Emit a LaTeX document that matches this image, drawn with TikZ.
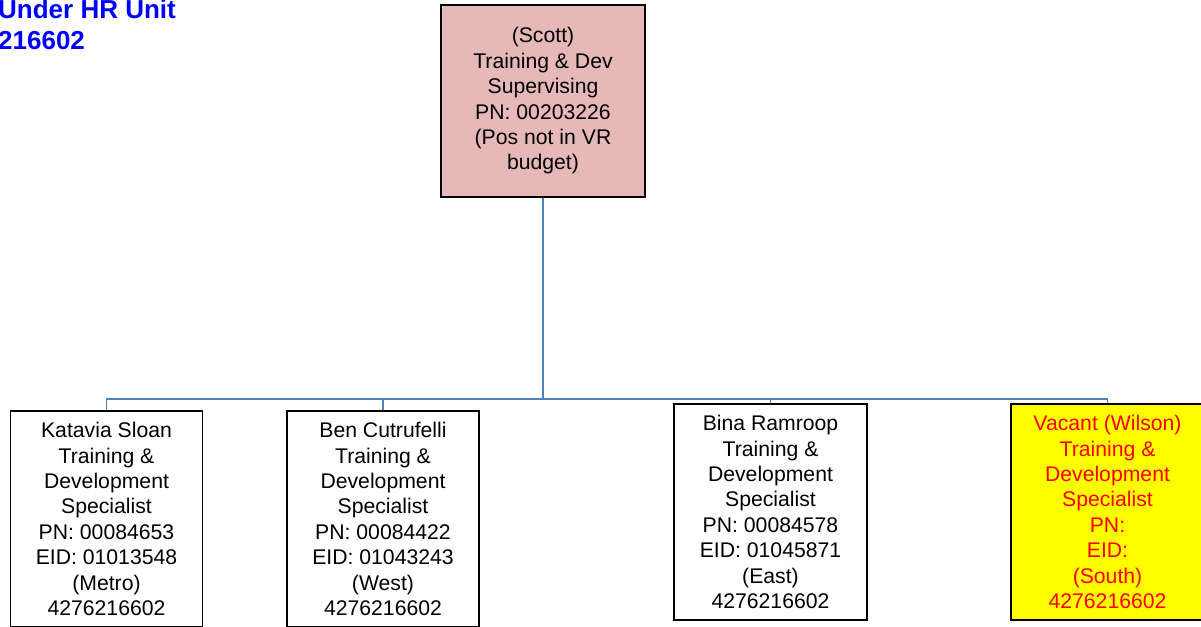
\documentclass[tikz,border=0pt]{standalone}
\usepackage{fontspec}
\setmainfont{Liberation Sans}
\usetikzlibrary{positioning}

\definecolor{supfill}{RGB}{230,185,184}
\definecolor{linkblue}{RGB}{79,129,189}
\definecolor{vacfill}{RGB}{255,255,0}
\definecolor{vactext}{RGB}{255,0,0}
\definecolor{unitblue}{RGB}{0,0,255}

\begin{document}
\begin{tikzpicture}[
x=1pt,y=-1pt,
post/.style={
  draw=black,
  line width=1.3pt,
  align=center,
  inner sep=0pt,
  minimum width=192pt,
  minimum height=216pt,
  font=\fontsize{21.2}{25.4}\selectfont
  },
vacant/.style={
  post,
  fill=vacfill,
  text=vactext
  },
link/.style={
  draw=linkblue,
  line width=1.6pt
  },
>=latex
]
\useasboundingbox (0,0) rectangle (1201,626);

\node[anchor=base west,align=left,text=unitblue,inner sep=0pt,
  font=\fontsize{26}{31}\selectfont\bfseries] (unit) at (-2,49.5)
  {Under HR Unit\\216602};

\node[post,fill=supfill,minimum width=204pt,minimum height=192pt] (scott) at (543,101)
  {(Scott)\\Training \& Dev\\Supervising\\PN: 00203226\\(Pos not in VR\\budget)};

\node[post] (sloan) at (106.5,519)
  {Katavia Sloan\\Training \&\\Development\\Specialist\\PN: 00084653\\EID: 01013548\\(Metro)\\4276216602};
\node[post] (cutrufelli) at (383,519)
  {Ben Cutrufelli\\Training \&\\Development\\Specialist\\PN: 00084422\\EID: 01043243\\(West)\\4276216602};
\node[post,minimum width=193pt] (ramroop) at (770.5,512)
  {Bina Ramroop\\Training \&\\Development\\Specialist\\PN: 00084578\\EID: 01045871\\(East)\\4276216602};
\node[vacant,minimum width=193pt] (wilson) at (1107.5,512)
  {Vacant (Wilson)\\Training \&\\Development\\Specialist\\PN:\\EID:\\(South)\\4276216602};

\coordinate (bus) at (543,399);
\draw[link] (scott.south) -- (bus);
\foreach \who in {sloan,cutrufelli,ramroop,wilson}
  \draw[link] (bus) -| (\who.north);
\end{tikzpicture}
\end{document}
